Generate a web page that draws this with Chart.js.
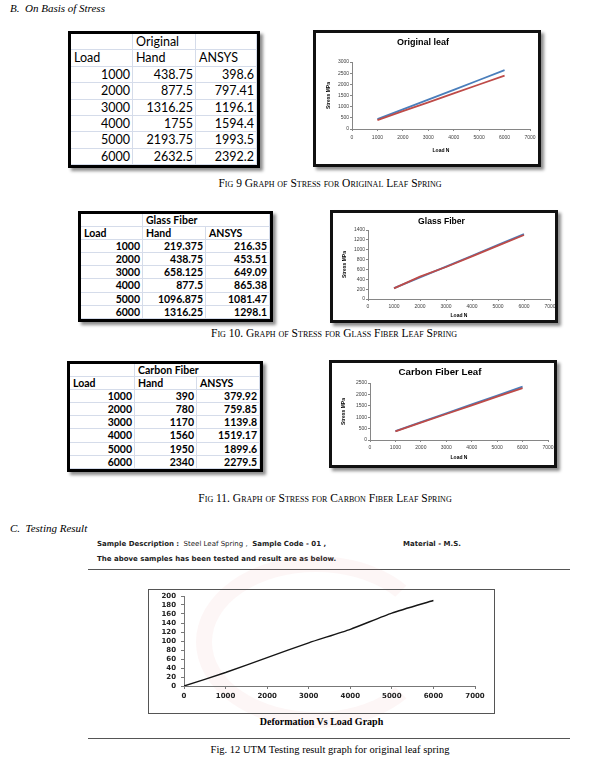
<!DOCTYPE html>
<html lang="en">
<head>
<meta charset="UTF-8">
<title>Stress graphs</title>
<style>
    body { margin: 0; width: 615px; height: 765px; position: relative; background: #fff; overflow: hidden; }
    .abs { position: absolute; }
    .head { font-family: "Liberation Serif", serif; font-style: italic; font-size: 11px; color: #000; }
    .cap { font-family: "Liberation Serif", serif; font-variant: small-caps; font-size: 11.5px; color: #000; white-space: nowrap; text-align: center; }
    .tbox { position: absolute; border: 3px solid #000; box-shadow: 3px 3px 3px rgba(0,0,0,0.45); background: #fff; overflow: hidden; font-family: Lato, sans-serif; color: #000; }
    .tbox .row { display: flex; }
    .tbox .cell { box-sizing: border-box; border-right: 1px solid #d5dcea; border-bottom: 1px solid #d5dcea; padding: 0 2px 0 3px; white-space: nowrap; flex: none; }
    .tbox .n { text-align: right; }
    .cbox { position: absolute; border: 3px solid #111; box-shadow: 3px 3px 3px rgba(0,0,0,0.45); background: #fff; }
    .cbox canvas { display: block; }
    .scan { font-family: "DejaVu Sans", sans-serif; font-size: 7px; color: #222; white-space: nowrap; }
</style>
</head>
<body>
<div class="abs head" style="left:10px; top:2px;">B.&nbsp;&nbsp;On Basis of Stress</div>

<div class="tbox" id="t1" style="left:68px; top:31px; width:186px; height:131px;"></div>
<div class="cbox" style="left:313px; top:30px;"><canvas id="c1" width="222" height="131"></canvas></div>
<div class="abs cap" style="left:130px; width:400px; top:177px;">Fig 9 Graph of Stress for Original Leaf Spring</div>

<div class="tbox" id="t2" style="left:78px; top:211px; width:189px; height:105px;"></div>
<div class="cbox" style="left:330px; top:210px;"><canvas id="c2" width="222" height="107"></canvas></div>
<div class="abs cap" style="left:134px; width:400px; top:327px;">Fig 10. Graph of Stress for Glass Fiber Leaf Spring</div>

<div class="tbox" id="t3" style="left:67px; top:361px; width:190px; height:105px;"></div>
<div class="cbox" style="left:329px; top:360px;"><canvas id="c3" width="222" height="102"></canvas></div>
<div class="abs cap" style="left:125px; width:400px; top:492px;">Fig 11. Graph of Stress for Carbon Fiber Leaf Spring</div>

<div class="abs head" style="left:10px; top:522px;">C.&nbsp;&nbsp;Testing Result</div>
<div class="abs scan" style="left:97px; top:540px;"><b>Sample Description :</b> &nbsp;Steel Leaf Spring , &nbsp;<b>Sample Code - 01 ,</b></div>
<div class="abs scan" style="left:403px; top:540px;"><b>Material - M.S.</b></div>
<div class="abs scan" style="left:97px; top:555px;"><b style="font-weight:600">The above samples has been tested and result are as below.</b></div>
<div class="abs" style="left:88px; top:569px; width:482px; height:1px; background:#555;"></div>
<div class="abs" style="left:196px; top:556px; width:240px; height:172px; border:16px solid rgba(225,130,130,0.07); border-right-color:transparent; border-radius:50%; box-sizing:border-box;"></div>
<div class="abs" style="left:148px; top:589px; border:1px solid #555;"><canvas id="c4" width="345" height="123"></canvas></div>
<div class="abs" style="left:148px; width:347px; top:716px; text-align:center; font-family:'Liberation Serif',serif; font-weight:bold; font-size:10px;">Deformation Vs Load Graph</div>
<div class="abs" style="left:88px; top:738px; width:482px; height:1px; background:#555;"></div>
<div class="abs" style="left:130px; width:400px; top:744px; text-align:center; font-family:'Liberation Serif',serif; font-size:10.5px;">Fig. 12 UTM Testing result graph for original leaf spring</div>

<script src="https://cdn.jsdelivr.net/npm/chart.js@4/dist/chart.umd.min.js"></script>
<script>
    'use strict';
    // loads (N) shared by all three stress tables
    var loads = [1000, 2000, 3000, 4000, 5000, 6000];
    var originalHand = [438.75, 877.5, 1316.25, 1755, 2193.75, 2632.5];
    var originalAnsys = [398.6, 797.41, 1196.1, 1594.4, 1993.5, 2392.2];
    var glassHand = [219.375, 438.75, 658.125, 877.5, 1096.875, 1316.25];
    var glassAnsys = [216.35, 453.51, 649.09, 865.38, 1081.47, 1298.1];
    var carbonHand = [390, 780, 1170, 1560, 1950, 2340];
    var carbonAnsys = [379.92, 759.85, 1139.8, 1519.17, 1899.6, 2279.5];
    // UTM test curve
    var utmLoad = [0, 1000, 2000, 3000, 4000, 5000, 6000];
    var utmDeformation = [0, 30, 63, 96, 126, 162, 190];
    var xTicks = [0, 1000, 2000, 3000, 4000, 5000, 6000, 7000];

    var axisColor = '#868686';
    var labelColor = '#404040';
    var sans = '"Liberation Sans", Arial, sans-serif';

    //table like the excel screenshots, built from div rows so heights stay fixed
    function buildTable(id, title, hand, ansys, cols, rowH, font, span) {
        function cell(text, w, cls) {
            return '<div class="cell ' + (cls || '') + '" style="width:' + w + 'px">' + text + '</div>';
        }
        var rowStart = '<div class="row" style="height:' + rowH + 'px; line-height:' + (rowH - 1) + 'px">';
        var html = '<div style="font-size:' + font.size + 'px; font-weight:' + font.weight + '">';
        html += rowStart + cell('', cols[0]) + (span ? cell(title, cols[1] + cols[2]) : cell(title, cols[1]) + cell('', cols[2])) + '</div>';
        html += rowStart + cell('Load', cols[0]) + cell('Hand', cols[1]) + cell('ANSYS', cols[2]) + '</div>';
        for (var i = 0; i < loads.length; i++) {
            html += rowStart + cell(loads[i], cols[0], 'n') + cell(hand[i], cols[1], 'n') + cell(ansys[i], cols[2], 'n') + '</div>';
        }
        html += '</div>';
        document.getElementById(id).innerHTML = html;
    }

    buildTable('t1', 'Original', originalHand, originalAnsys, [62, 63, 61], 16.4, {size: 12.5, weight: 400}, false);
    buildTable('t2', 'Glass Fiber', glassHand, glassAnsys, [62, 63, 64], 13.1, {size: 10.5, weight: 700}, true);
    buildTable('t3', 'Carbon Fiber', carbonHand, carbonAnsys, [65, 62, 63], 13.1, {size: 10.5, weight: 700}, true);

    function points(xs, ys) {
        return xs.map(function (x, i) { return {x: x, y: ys[i]}; });
    }

    function plain(v) { return String(v); }

    //g = plot area inside the canvas and where the texts sit
    function excelChart(id, title, hand, ansys, g) {
        var canvas = document.getElementById(id);
        var tickFont = {family: sans, size: 5};
        return new Chart(canvas, {
            type: 'line',
            data: {
                datasets: [
                    {label: 'Hand', data: points(loads, hand), borderColor: '#4a7ebb', borderWidth: 1.8, pointRadius: 0, order: 1},
                    {label: 'ANSYS', data: points(loads, ansys), borderColor: '#be4b48', borderWidth: 1.8, pointRadius: 0, order: 0}
                ]
            },
            options: {
                responsive: false, animation: false, events: [],
                layout: {padding: {left: 0, top: 0, bottom: 0, right: canvas.width - g.right}},
                plugins: {
                    legend: {display: false},
                    tooltip: {enabled: false},
                    title: {
                        display: true, text: title, color: '#000',
                        font: {family: sans, size: g.titleSize, weight: 'bold', lineHeight: 1.2},
                        padding: {top: g.titleY - g.titleSize * 0.6, bottom: g.top - g.titleY - g.titleSize * 0.6}
                    }
                },
                scales: {
                    x: {
                        type: 'linear', min: 0, max: 7000,
                        afterBuildTicks: function (s) { s.ticks = xTicks.map(function (v) { return {value: v}; }); },
                        ticks: {font: tickFont, color: labelColor, padding: g.xTickPad, maxRotation: 0, autoSkip: false, callback: plain},
                        grid: {drawOnChartArea: false, tickLength: 2, color: axisColor},
                        border: {color: axisColor},
                        title: {display: true, text: 'Load N', color: '#000', font: {family: sans, size: 5, weight: 'bold'}, padding: {top: 0, bottom: g.xTitlePad}},
                        afterFit: function (s) { s.height = canvas.height - g.bottom; s.paddingLeft = 0; s.paddingRight = 0; }
                    },
                    y: {
                        min: 0, max: g.ymax,
                        ticks: {stepSize: g.ystep, font: tickFont, color: labelColor, padding: 1, autoSkip: false, callback: plain},
                        grid: {drawOnChartArea: false, tickLength: 2, color: axisColor},
                        border: {color: axisColor},
                        title: {display: true, text: 'Stress MPa', color: '#000', font: {family: sans, size: 5, weight: 'bold'}, padding: {top: g.yTitleX - 3, bottom: 0}},
                        afterFit: function (s) { s.width = g.left; s.paddingTop = 0; s.paddingBottom = 0; }
                    }
                }
            }
        });
    }

    excelChart('c1', 'Original leaf', originalHand, originalAnsys,
        {left: 36, right: 214, top: 29, bottom: 96, titleSize: 9, titleY: 10, xTickPad: 4, xTitlePad: 10, yTitleX: 13, ymax: 3000, ystep: 500});
    excelChart('c2', 'Glass Fiber', glassHand, glassAnsys,
        {left: 35, right: 217, top: 17, bottom: 86, titleSize: 8.6, titleY: 9, xTickPad: 3, xTitlePad: 1, yTitleX: 12, ymax: 1400, ystep: 200});
    excelChart('c3', 'Carbon Fiber Leaf', carbonHand, carbonAnsys,
        {left: 38, right: 216, top: 20, bottom: 77, titleSize: 9.7, titleY: 9, xTickPad: 3, xTitlePad: 4, yTitleX: 12, ymax: 2500, ystep: 500});

    //scanned UTM graph
    var utmCanvas = document.getElementById('c4');
    var utmFont = {family: '"DejaVu Sans", Verdana, sans-serif', size: 7, weight: 'bold'};
    new Chart(utmCanvas, {
        type: 'line',
        data: {datasets: [{label: 'Deformation', data: points(utmLoad, utmDeformation), borderColor: '#151515', borderWidth: 1.4, pointRadius: 0, tension: 0.2}]},
        options: {
            responsive: false, animation: false, events: [],
            layout: {padding: {left: 0, top: 6, bottom: 0, right: utmCanvas.width - 326}},
            plugins: {legend: {display: false}, tooltip: {enabled: false}},
            scales: {
                x: {
                    type: 'linear', min: 0, max: 7000,
                    afterBuildTicks: function (s) { s.ticks = xTicks.map(function (v) { return {value: v}; }); },
                    ticks: {font: utmFont, color: '#222', padding: 3, maxRotation: 0, autoSkip: false, callback: plain},
                    grid: {drawOnChartArea: false, tickLength: 3, color: '#777'},
                    border: {color: '#777'},
                    afterFit: function (s) { s.height = utmCanvas.height - 96; s.paddingLeft = 0; s.paddingRight = 0; }
                },
                y: {
                    min: 0, max: 200,
                    ticks: {stepSize: 20, font: utmFont, color: '#222', padding: 5, autoSkip: false, callback: plain},
                    grid: {drawOnChartArea: false, tickLength: 3, color: '#777'},
                    border: {color: '#777'},
                    afterFit: function (s) { s.width = 35; s.paddingTop = 0; s.paddingBottom = 0; }
                }
            }
        }
    });
</script>
</body>
</html>
